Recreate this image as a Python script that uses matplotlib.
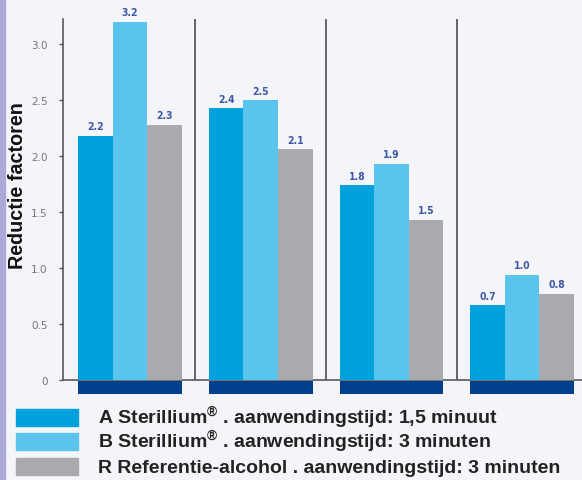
import matplotlib.pyplot as plt
from matplotlib.patches import Rectangle

groups = [0, 1, 2, 3]
values_a = [2.18, 2.43, 1.74, 0.67]
values_b = [3.20, 2.50, 1.93, 0.94]
values_r = [2.28, 2.06, 1.43, 0.77]
labels_a = ["2.2", "2.4", "1.8", "0.7"]
labels_b = ["3.2", "2.5", "1.9", "1.0"]
labels_r = ["2.3", "2.1", "1.5", "0.8"]
series_names = [
    r"A Sterillium$^{\circledR}$ . aanwendingstijd: 1,5 minuut",
    r"B Sterillium$^{\circledR}$ . aanwendingstijd: 3 minuten",
    "R Referentie-alcohol . aanwendingstijd: 3 minuten",
]
yticks = [0, 0.5, 1.0, 1.5, 2.0, 2.5, 3.0]
ytick_labels = ["0", "0.5", "1.0", "1.5", "2.0", "2.5", "3.0"]

col_a = "#00a2de"
col_b = "#5bc4ec"
col_r = "#a9aaad"
dark = "#003f8e"
bg = "#f4f5f9"
label_col = "#3d56a6"
txt_font = ["Liberation Sans", "DejaVu Sans"]

plt.rcParams["mathtext.fontset"] = "custom"
plt.rcParams["mathtext.rm"] = "Liberation Sans:bold"
plt.rcParams["mathtext.it"] = "Liberation Sans:bold"
plt.rcParams["mathtext.bf"] = "Liberation Sans:bold"

fig = plt.figure(figsize=(5.82, 4.81), dpi=100, facecolor=bg)
fig.patches.append(Rectangle((0, 0), 5 / 582, 1, transform=fig.transFigure,
                             color="#aaa9d8", zorder=0))

ax = fig.add_axes([63 / 582, 1 - 400 / 481, 1 - 63 / 582, 380 / 481])
ax.set_facecolor(bg)
ymax = 3.225
ax.set_ylim(-0.17, ymax)
ax.set_xlim(-0.513, 3.458)

w = 0.264
bars = []
for off, vals, labs, col in [(-w, values_a, labels_a, col_a),
                             (0, values_b, labels_b, col_b),
                             (w, values_r, labels_r, col_r)]:
    xs = [g + off for g in groups]
    b = ax.bar(xs, vals, width=w, color=col, zorder=3)
    bars.append(b)
    for x, v, t in zip(xs, vals, labs):
        ax.text(x, v + 0.04, t, ha="center", va="bottom", fontsize=7.5,
                color=label_col, fontweight="bold", fontstretch="condensed",
                zorder=4)

# dark blue blocks under each group
ax.bar(groups, [0.115] * 4, bottom=-0.125, width=3 * w, color=dark, zorder=3,
       clip_on=False)

ax.axhline(0, color="#5a5a5a", lw=1.2, zorder=2)
ax.vlines([0.5, 1.5, 2.5], 0, ymax, color="#5a5a5a", lw=1.3, zorder=2)

for s in ["top", "right", "bottom"]:
    ax.spines[s].set_visible(False)
ax.spines["left"].set_bounds(0, ymax)
ax.spines["left"].set_color("#5a5a5a")
ax.spines["left"].set_linewidth(1.2)
ax.set_xticks([])
ax.set_yticks(yticks)
ax.set_yticklabels(ytick_labels)
ax.tick_params(axis="y", direction="out", length=3, width=1, color="#5a5a5a",
               labelsize=7.5, labelcolor="#777777", pad=8)

fig.text(18 / 582, 1 - 186 / 481, "Reductie factoren", rotation=90,
         ha="center", va="center", fontsize=14.2, fontweight="bold",
         family=txt_font, color="#111111")

# legend rows, laid out by hand so the superscript does not shift the rows
row_top = [410, 434, 459]
for top, b, name in zip(row_top, bars, series_names):
    fig.patches.append(Rectangle((16 / 582, 1 - (top + 17) / 481), 62 / 582,
                                 17 / 481, transform=fig.transFigure,
                                 color=b[0].get_facecolor()))
    fig.text(98 / 582, 1 - (top + 14.5) / 481, name, ha="left", va="baseline",
             fontsize=14, fontweight="bold", family=txt_font, color="#222222")

fig.savefig("out.png", dpi=100, facecolor=bg)
